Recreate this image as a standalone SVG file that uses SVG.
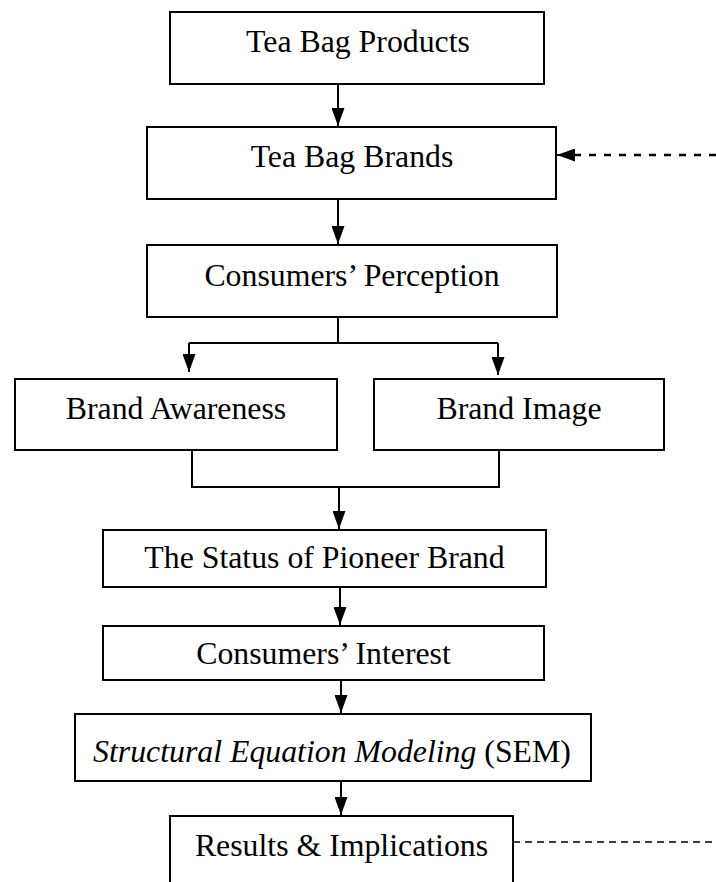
<svg xmlns="http://www.w3.org/2000/svg" width="716" height="882" viewBox="0 0 716 882">
<style>
.box{fill:#fff;stroke:#000;stroke-width:2}
.lbl{font-family:"Liberation Serif","Times New Roman",serif;font-size:31.8px;fill:#000;text-anchor:middle}
.con{fill:none;stroke:#000;stroke-width:2}
.dash1{fill:none;stroke:#000;stroke-width:2.5;stroke-dasharray:7 8}
.dash2{fill:none;stroke:#000;stroke-width:1.3;stroke-dasharray:7 5}
</style>
<defs>
<marker id="ah" viewBox="0 0 18 13" refX="18" refY="6.5" markerWidth="18" markerHeight="13" markerUnits="userSpaceOnUse" orient="auto">
<path d="M0,0 L18,6.5 L0,13 z" fill="#000"/>
</marker>
</defs>
<rect width="716" height="882" fill="#fff"/>
<g id="connectors">
<path class="con" d="M338,84 V126" marker-end="url(#ah)"/>
<path class="con" d="M338,199 V244" marker-end="url(#ah)"/>
<path class="con" d="M338,317 V343 M189,343 H498"/>
<path class="con" d="M189,343 V372" marker-end="url(#ah)"/>
<path class="con" d="M498,343 V375" marker-end="url(#ah)"/>
<path class="con" d="M192,450 V487 H499 V450"/>
<path class="con" d="M339,487 V529" marker-end="url(#ah)"/>
<path class="con" d="M340,587 V625" marker-end="url(#ah)"/>
<path class="con" d="M341,680 V713" marker-end="url(#ah)"/>
<path class="con" d="M341,781 V815" marker-end="url(#ah)"/>
<path class="dash1" d="M716,155 H575"/>
<path class="con" d="M575,155 H557" marker-end="url(#ah)"/>
<path class="dash2" d="M513,842 H716"/>
</g>
<g id="n-products"><rect class="box" x="170" y="12" width="374" height="72"/><text class="lbl" x="358" y="52">Tea Bag Products</text></g>
<g id="n-brands"><rect class="box" x="147" y="127" width="409" height="72"/><text class="lbl" x="352" y="167">Tea Bag Brands</text></g>
<g id="n-perception"><rect class="box" x="147" y="245" width="410" height="72"/><text class="lbl" x="352" y="286">Consumers’ Perception</text></g>
<g id="n-awareness"><rect class="box" x="15" y="379" width="322" height="71"/><text class="lbl" x="176" y="419">Brand Awareness</text></g>
<g id="n-image"><rect class="box" x="374" y="379" width="290" height="71"/><text class="lbl" x="519" y="419">Brand Image</text></g>
<g id="n-pioneer"><rect class="box" x="103" y="530" width="443" height="57"/><text class="lbl" x="324.5" y="568">The Status of Pioneer Brand</text></g>
<g id="n-interest"><rect class="box" x="103" y="626" width="441" height="54"/><text class="lbl" x="323.5" y="664">Consumers’ Interest</text></g>
<g id="n-sem"><rect class="box" x="75" y="714" width="516" height="67"/><text class="lbl" x="332" y="762"><tspan font-style="italic">Structural Equation Modeling</tspan> (SEM)</text></g>
<g id="n-results"><rect class="box" x="170" y="816" width="343" height="80"/><text class="lbl" x="341.5" y="856">Results &amp; Implications</text></g>
</svg>
